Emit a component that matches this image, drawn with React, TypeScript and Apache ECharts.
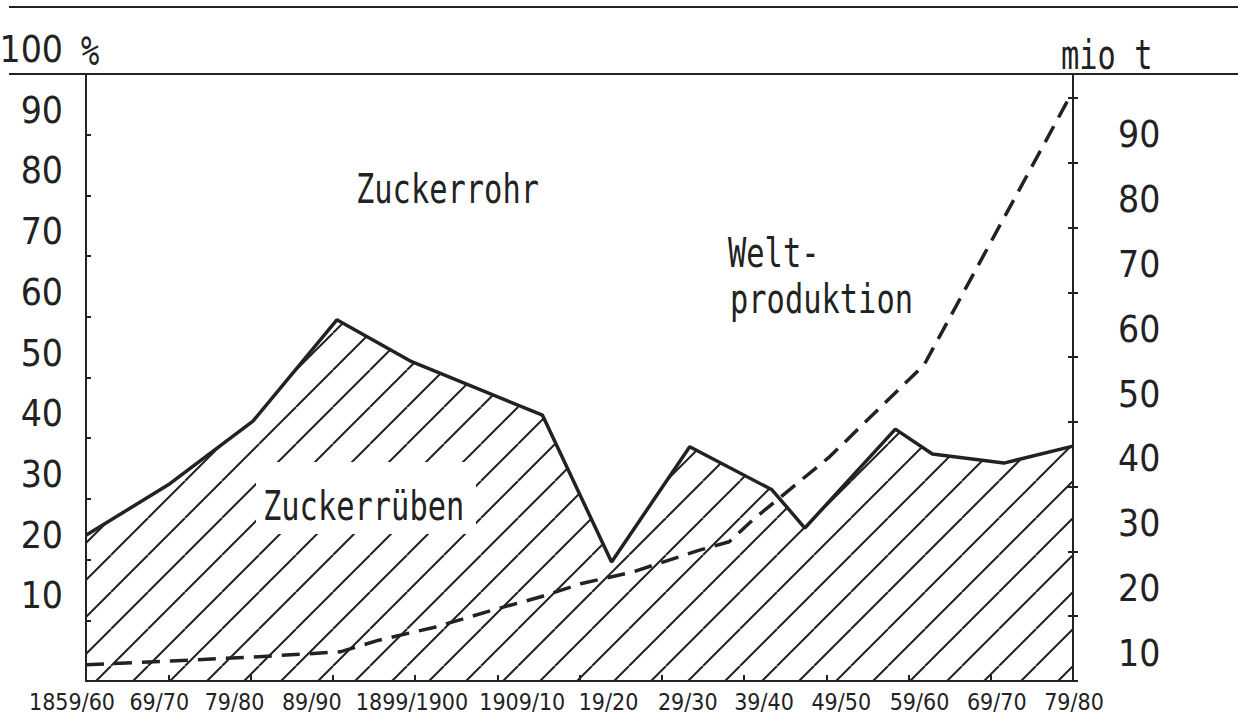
import React, { useEffect, useRef } from "react";
import * as echarts from "echarts";

// ---- data ----
const xTickYears = [1860, 1870, 1880, 1890, 1900, 1910, 1920, 1930, 1940, 1950, 1960, 1970, 1980];
const xTickLabels = ["1859/60", "69/70", "79/80", "89/90", "1899/1900", "1909/10", "19/20", "29/30", "39/40", "49/50", "59/60", "69/70", "79/80"];

// share of sugar beet in world sugar production (%)
const beetYears = [1860, 1870.2, 1880.3, 1890.5, 1899.6, 1915.5, 1923.9, 1933.4, 1943.4, 1947.4, 1958.4, 1962.9, 1971.6, 1980];
const beetShare = [24.0, 32.5, 42.8, 59.5, 52.6, 43.8, 19.6, 38.6, 31.5, 25.2, 41.5, 37.4, 35.9, 38.7];

// world production (mio t)
const worldYears = [1860, 1870.4, 1880.3, 1890.9, 1895.6, 1902.4, 1909.6, 1915.3, 1920.4, 1926.4, 1934.6, 1938.2, 1941.0, 1950.4, 1961.9, 1979.4];
const worldProd = [2.5, 3.1, 3.7, 4.5, 6.3, 8.3, 11.0, 13.0, 15.1, 16.8, 20.2, 21.5, 24.8, 34.6, 48.8, 89.7];

const annotations = ["Zuckerrohr", "Zuckerrüben", "Welt-", "produktion"];
const unitLeft = "%";
const unitRight = "mio t";

// ---- layout / style ----
// horizontal nudge of each x label relative to its tick (the typed labels are not centred on ticks)
const xLabelShift = [-14, -9, -16, -21, -3, 25, 29, 26, 20, 15, 11, 6, 1];

const INK = "#222";
const NARROW = "'Liberation Sans Narrow', 'DejaVu Sans Condensed', 'Arial Narrow', sans-serif";
const MONO = "'DejaVu Sans Mono', 'Liberation Mono', monospace";
const Y_FONT = 37;
const X_FONT = 23;

function hatchPattern() {
  const s = 37;
  const c = document.createElement("canvas");
  c.width = s;
  c.height = s;
  const ctx = c.getContext("2d")!;
  ctx.strokeStyle = "#222";
  ctx.lineWidth = 2;
  for (const k of [-1, 0, 1]) {
    ctx.beginPath();
    ctx.moveTo(k * s, s);
    ctx.lineTo(k * s + s, 0);
    ctx.stroke();
  }
  return { image: c.toDataURL(), repeat: "repeat", imageWidth: s, imageHeight: s };
}

function monoText(text: string, x: number, y: number, z = 20) {
  return {
    type: "text",
    x,
    y,
    scaleX: 0.76,
    z,
    style: {
      text,
      fontFamily: MONO,
      fontSize: 40,
      fill: INK,
      align: "left",
      verticalAlign: "middle",
    },
  };
}

const xRich: Record<string, any> = {};
xLabelShift.forEach((d, i) => {
  xRich["s" + i] = {
    fontFamily: NARROW,
    fontSize: X_FONT,
    color: INK,
    padding: d >= 0 ? [0, 0, 0, 2 * d] : [0, -2 * d, 0, 0],
  };
});

export default function App() {
  const ref = useRef<HTMLDivElement>(null);
  useEffect(() => {
    if (!ref.current) return;
    const chart = echarts.init(ref.current, null, { renderer: "svg" });
    const axisLine = { show: true, lineStyle: { color: INK, width: 2 } };
    const option: any = {
      animation: false,
      backgroundColor: "#fff",
      grid: { left: 86, right: 165, top: 74, bottom: 43, containLabel: false, outerBoundsMode: "none" },
      xAxis: {
        type: "value",
        min: 1860,
        max: 1980,
        interval: 10,
        axisLine: { ...axisLine, onZero: false },
        axisTick: { show: true, inside: true, length: 6, lineStyle: { color: INK, width: 2 } },
        splitLine: { show: false },
        axisLabel: {
          margin: 9,
          showMinLabel: true,
          showMaxLabel: true,
          hideOverlap: false,
          fontFamily: NARROW,
          fontSize: X_FONT,
          color: INK,
          rich: xRich,
          formatter: (v: number) => {
            const i = xTickYears.indexOf(Math.round(v));
            return i >= 0 ? `{s${i}|${xTickLabels[i]}}` : "";
          },
        },
      },
      yAxis: [
        {
          type: "value",
          min: 0,
          max: 100,
          interval: 10,
          position: "left",
          axisLine,
          axisTick: { show: true, inside: true, length: 5, lineStyle: { color: INK, width: 2 } },
          splitLine: { show: false },
          axisLabel: {
            margin: 23,
            showMaxLabel: true,
            hideOverlap: false,
            fontFamily: NARROW,
            fontSize: Y_FONT,
            color: INK,
            verticalAlign: "middle",
            rich: { u: { fontFamily: NARROW, fontSize: Y_FONT, color: INK, padding: [0, 0, 49, 0] } },
            formatter: (v: number) => (v === 0 || v % 10 !== 0 ? "" : `{u|${v}}`),
          },
        },
        {
          type: "value",
          min: 0,
          max: 93.7,
          interval: 10,
          position: "right",
          axisLine,
          axisTick: { show: true, inside: true, length: 5, lineStyle: { color: INK, width: 2 } },
          splitLine: { show: false },
          axisLabel: {
            margin: 45,
            align: "left",
            hideOverlap: false,
            fontFamily: NARROW,
            fontSize: Y_FONT,
            color: INK,
            verticalAlign: "middle",
            rich: { d: { fontFamily: NARROW, fontSize: Y_FONT, color: INK, padding: [74, 0, 0, 0] } },
            formatter: (v: number) => (v === 0 || Math.abs(v % 10) > 1e-6 ? "" : `{d|${v}}`),
          },
        },
        {
          type: "value",
          min: 0,
          max: 93.7,
          interval: 10,
          position: "right",
          axisLine: { show: false },
          axisTick: { show: true, inside: false, length: 5, lineStyle: { color: INK, width: 2 } },
          splitLine: { show: false },
          axisLabel: { show: false },
        },
      ],
      series: [
        {
          name: "Zuckerrüben",
          type: "line",
          yAxisIndex: 0,
          symbol: "none",
          data: beetYears.map((y, i) => [y, beetShare[i]]),
          lineStyle: { color: INK, width: 3.5 },
          areaStyle: { color: hatchPattern(), opacity: 1 },
          z: 2,
        },
        {
          name: "Weltproduktion",
          type: "line",
          yAxisIndex: 1,
          symbol: "none",
          data: worldYears.map((y, i) => [y, worldProd[i]]),
          lineStyle: { color: INK, width: 3.5, type: [18, 10] },
          z: 3,
        },
      ],
      graphic: [
        { type: "line", z: 20, shape: { x1: 9, y1: 7, x2: 1238, y2: 7 }, style: { stroke: INK, lineWidth: 2 } },
        { type: "line", z: 20, shape: { x1: 9, y1: 74, x2: 1238, y2: 74 }, style: { stroke: INK, lineWidth: 2 } },
        { type: "rect", z: 15, shape: { x: 256, y: 462, width: 220, height: 72 }, style: { fill: "#fff" } },
        monoText(annotations[0], 356, 189),
        monoText(annotations[1], 263, 506),
        monoText(annotations[2], 728, 253),
        monoText(annotations[3], 730, 299),
        monoText(unitLeft, 81, 51),
        monoText(unitRight, 1061, 55),
      ],
    };
    chart.setOption(option);
    return () => chart.dispose();
  }, []);
  return (
    <div
      ref={ref}
      style={{ position: "fixed", left: 0, top: 0, width: 1238, height: 724, background: "#fff" }}
    />
  );
}
